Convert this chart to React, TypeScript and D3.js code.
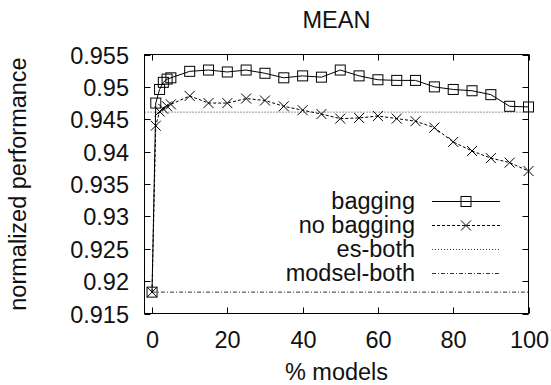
import React, { useEffect, useRef } from "react";
import * as d3 from "d3";

const xs = [0, 1, 2, 3, 4, 5, 10, 15, 20, 25, 30, 35, 40, 45, 50, 55, 60, 65, 70, 75, 80, 85, 90, 95, 100];
const bagging = [0.9183, 0.9475, 0.9496, 0.9507, 0.9512, 0.9514, 0.9524, 0.9526, 0.9523, 0.9526, 0.9521, 0.9514, 0.9517, 0.9515, 0.9526, 0.9517, 0.9511, 0.951, 0.951, 0.95, 0.9496, 0.9494, 0.9488, 0.947, 0.9469];
const noBagging = [0.9183, 0.944, 0.9462, 0.9466, 0.947, 0.9473, 0.9486, 0.9475, 0.9475, 0.9482, 0.9479, 0.947, 0.9464, 0.9458, 0.9451, 0.9452, 0.9455, 0.9451, 0.9447, 0.9437, 0.9415, 0.9401, 0.939, 0.9383, 0.937];
const esBoth = 0.9461;
const modselBoth = 0.9183;
const yTicks = [0.915, 0.92, 0.925, 0.93, 0.935, 0.94, 0.945, 0.95, 0.955];
const xTicks = [0, 20, 40, 60, 80, 100];
const legendLabels = ["bagging", "no bagging", "es-both", "modsel-both"];

const W = 551, H = 385;
const L = 144.5, R = 528.5, T = 54.5, B = 313.5;
const FONT = "'Liberation Sans', Arial, Helvetica, sans-serif";

export default function App() {
  const ref = useRef<SVGSVGElement>(null);
  useEffect(() => {
    const svg = d3.select(ref.current);
    svg.selectAll("*").remove();
    const x = d3.scaleLinear().domain([-2, 100]).range([L, R]);
    const y = d3.scaleLinear().domain([0.915, 0.955]).range([B, T]);
    const fs = 23.5;
    const txt = "#111";

    svg.append("rect").attr("width", W).attr("height", H).attr("fill", "white");

    // title
    svg.append("text").attr("x", (L + R) / 2).attr("y", 28).attr("text-anchor", "middle").attr("fill", txt)
      .attr("font-family", FONT).attr("font-size", fs).text("MEAN");

    // ticks
    const g = svg.append("g").attr("stroke", "black").attr("stroke-width", 1);
    yTicks.forEach((t) => {
      const yy = Math.round(y(t)) + 0.5;
      g.append("line").attr("x1", L).attr("x2", L + 6).attr("y1", yy).attr("y2", yy);
      g.append("line").attr("x1", R).attr("x2", R - 6).attr("y1", yy).attr("y2", yy);
      svg.append("text").attr("x", 129).attr("y", yy + 8.5).attr("text-anchor", "end").attr("fill", txt)
        .attr("font-family", FONT).attr("font-size", fs).text(d3.format("")(t));
    });
    xTicks.forEach((t) => {
      const xx = Math.round(x(t)) + 0.5;
      g.append("line").attr("x1", xx).attr("x2", xx).attr("y1", B).attr("y2", B - 6);
      g.append("line").attr("x1", xx).attr("x2", xx).attr("y1", T).attr("y2", T + 6);
      svg.append("text").attr("x", xx).attr("y", 348).attr("text-anchor", "middle").attr("fill", txt)
        .attr("font-family", FONT).attr("font-size", fs).text(String(t));
    });

    // axis labels
    svg.append("text").attr("x", (L + R) / 2).attr("y", 380).attr("text-anchor", "middle").attr("fill", txt)
      .attr("font-family", FONT).attr("font-size", fs).text("% models");
    svg.append("text").attr("transform", `translate(26,${(T + B) / 2}) rotate(-90)`).attr("text-anchor", "middle")
      .attr("fill", txt).attr("font-family", FONT).attr("font-size", fs).text("normalized performance");

    // constant lines
    svg.append("line").attr("x1", x(-2)).attr("x2", x(100)).attr("y1", y(esBoth)).attr("y2", y(esBoth))
      .attr("stroke", "#333").attr("stroke-width", 1).attr("stroke-dasharray", "1,2");
    svg.append("line").attr("x1", x(0)).attr("x2", x(100)).attr("y1", y(modselBoth)).attr("y2", y(modselBoth))
      .attr("stroke", "#333").attr("stroke-width", 1).attr("stroke-dasharray", "4,2,1,2");

    const line = d3.line<number>().x((_, i) => x(xs[i])).y((d) => y(d));
    svg.append("path").attr("d", line(bagging)).attr("fill", "none").attr("stroke", "black").attr("stroke-width", 1);
    svg.append("path").attr("d", line(noBagging)).attr("fill", "none").attr("stroke", "black").attr("stroke-width", 1)
      .attr("stroke-dasharray", "3,2");

    const square = (cx: number, cy: number) =>
      svg.append("rect").attr("x", cx - 5).attr("y", cy - 5).attr("width", 10).attr("height", 10)
        .attr("fill", "none").attr("stroke", "black").attr("stroke-width", 1);
    const cross = (cx: number, cy: number) =>
      svg.append("path").attr("d", `M${cx - 5},${cy - 5}L${cx + 5},${cy + 5}M${cx - 5},${cy + 5}L${cx + 5},${cy - 5}`)
        .attr("fill", "none").attr("stroke", "black").attr("stroke-width", 1);
    bagging.forEach((v, i) => square(x(xs[i]), y(v)));
    noBagging.forEach((v, i) => cross(x(xs[i]), y(v)));

    // legend
    const rows = [201, 225, 249, 273];
    const styles = [
      { dash: null, color: "black" },
      { dash: "3,2", color: "black" },
      { dash: "1,2", color: "#333" },
      { dash: "4,2,1,2", color: "#333" },
    ];
    legendLabels.forEach((lab, i) => {
      const yy = rows[i];
      svg.append("text").attr("x", 415).attr("y", yy + 8).attr("text-anchor", "end").attr("fill", txt)
        .attr("font-family", FONT).attr("font-size", fs).text(lab);
      const ln = svg.append("line").attr("x1", 432).attr("x2", 500).attr("y1", yy + 0.5).attr("y2", yy + 0.5)
        .attr("stroke", styles[i].color).attr("stroke-width", 1);
      if (styles[i].dash) ln.attr("stroke-dasharray", styles[i].dash);
    });
    square(466, rows[0] + 0.5);
    cross(466, rows[1] + 0.5);

    // frame
    svg.append("rect").attr("x", L).attr("y", T).attr("width", R - L).attr("height", B - T)
      .attr("fill", "none").attr("stroke", "black").attr("stroke-width", 1);
  }, []);
  return (
    <svg ref={ref} width={W} height={H} style={{ position: "absolute", left: 0, top: 0 }} />
  );
}
